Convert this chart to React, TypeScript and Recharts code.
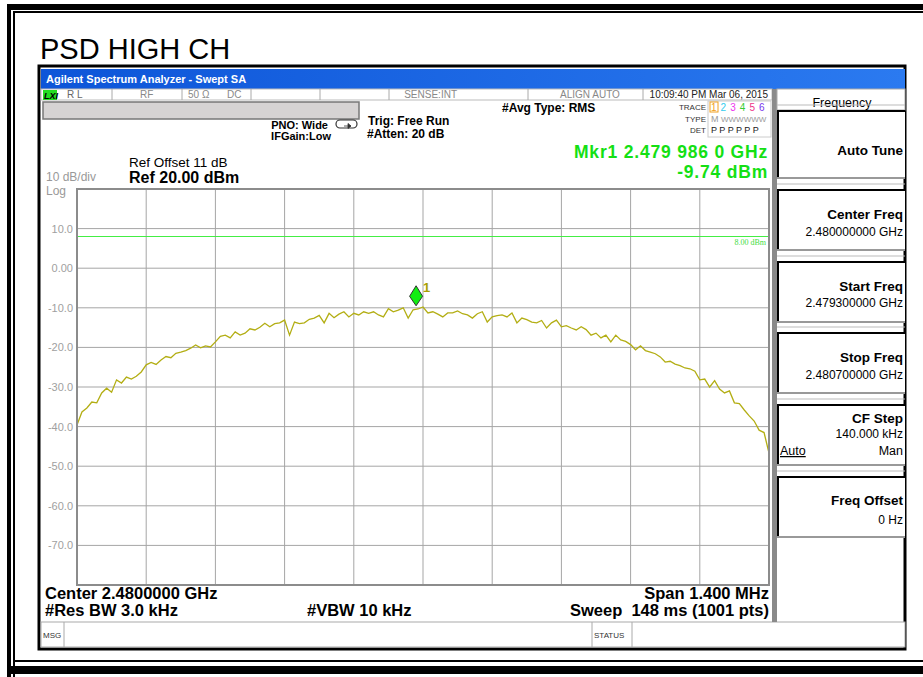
import React from 'react';
import { LineChart, Line, XAxis, YAxis, CartesianGrid, ReferenceLine, ReferenceDot } from 'recharts';

// sweep 2.4793 GHz .. 2.4807 GHz, x is offset from start in kHz
const spanKHz = 1400;
const xTicks = [0, 140, 280, 420, 560, 700, 840, 980, 1120, 1260, 1400];
const yTicks = [-80, -70, -60, -50, -40, -30, -20, -10, 0, 10, 20];
const yTickLabels: Record<string, string> = {
  '10': '10.0', '0': '0.00', '-10': '-10.0', '-20': '-20.0', '-30': '-30.0',
  '-40': '-40.0', '-50': '-50.0', '-60': '-60.0', '-70': '-70.0',
};

// trace 1, dBm
const traceDbm = [
  -39.6, -36.3, -35.3, -33.8, -34.0, -31.5, -30.3, -31.3, -28.2, -29.0,
  -27.5, -28.0, -27.3, -26.2, -24.4, -23.8, -24.3, -23.2, -22.3, -22.6,
  -21.5, -21.2, -20.8, -20.2, -19.4, -20.1, -19.6, -19.9, -18.6, -17.2,
  -16.9, -17.6, -16.1, -16.9, -16.4, -15.3, -15.6, -14.9, -13.9, -14.8,
  -14.0, -13.8, -13.1, -16.9, -13.6, -14.0, -13.8, -12.9, -12.6, -11.9,
  -13.8, -11.4, -12.5, -11.6, -11.0, -12.3, -11.4, -11.8, -11.0, -11.4,
  -11.0, -11.8, -12.3, -10.2, -11.0, -10.6, -10.0, -12.6, -10.5, -10.3,
  -9.8, -11.3, -11.0, -11.6, -12.3, -11.3, -11.3, -10.8, -11.5, -11.8,
  -12.6, -11.5, -11.0, -13.6, -12.3, -12.0, -11.8, -12.3, -11.3, -13.8,
  -12.6, -13.0, -13.6, -13.8, -13.2, -15.1, -13.8, -13.1, -14.8, -14.5,
  -15.1, -15.6, -14.8, -15.5, -16.9, -16.4, -17.6, -16.9, -18.6, -16.9,
  -18.1, -18.5, -19.3, -20.6, -19.6, -20.8, -21.2, -21.6, -22.4, -23.7,
  -23.5, -24.2, -24.6, -25.2, -25.4, -26.0, -28.2, -28.0, -30.0, -28.4,
  -30.5, -31.5, -31.0, -34.0, -34.2, -35.8, -37.3, -38.6, -40.9, -41.5,
  -46.7,
];

const displayLine = 8;
const marker = { offsetKHz: 686, dbm: -9.74 };

const chartData = traceDbm.map((v, i) => ({ f: (i * spanKHz) / (traceDbm.length - 1), dbm: v }));

const FONT = '"Liberation Sans", Arial, sans-serif';

const renderYTick = (props: any) => {
  const label = yTickLabels[String(props.payload.value)];
  if (!label) return <g />;
  return (
    <text x={73} y={props.y + 4} textAnchor="end" fontSize={11} fill="#a0a0a0" fontFamily={FONT}>
      {label}
    </text>
  );
};
const renderNoTick = () => <g />;

const MarkerShape = (props: any) => {
  const { cx, cy } = props;
  const top = cy - 21;
  return (
    <g>
      <path d={`M${cx} ${top} L${cx + 6.5} ${top + 10.5} L${cx} ${cy - 1} L${cx - 6.5} ${top + 10.5} Z`} fill="#11ee11" stroke="#333" strokeWidth={1} />
      <text x={cx + 7} y={top + 6} fontSize={13} fontWeight="bold" fill="#a8a000" fontFamily={FONT}>1</text>
    </g>
  );
};

const T = (p: { x: number; y: number; s?: number; b?: boolean; c?: string; a?: 'start' | 'end' | 'middle'; ls?: number; children: React.ReactNode; u?: boolean }) => (
  <text x={p.x} y={p.y} fontSize={p.s ?? 12} fontWeight={p.b ? 'bold' : 'normal'} fill={p.c ?? '#000'} textAnchor={p.a ?? 'start'} fontFamily={FONT}
    letterSpacing={p.ls} textDecoration={p.u ? 'underline' : undefined} style={{ whiteSpace: 'pre' }}>
    {p.children}
  </text>
);

const softBoxes = [
  { y: 111, h: 67, title: 'Auto Tune', ty: 155 },
  { y: 190, h: 60, title: 'Center Freq', ty: 219, val: '2.480000000 GHz', vy: 236 },
  { y: 262, h: 60, title: 'Start Freq', ty: 291, val: '2.479300000 GHz', vy: 307 },
  { y: 333, h: 60, title: 'Stop Freq', ty: 362, val: '2.480700000 GHz', vy: 379 },
  { y: 405, h: 60, title: 'CF Step', ty: 423, val: '140.000 kHz', vy: 438 },
  { y: 477, h: 60, title: 'Freq Offset', ty: 505, val: '0 Hz', vy: 524 },
];

export default function App() {
  return (
    <div style={{ position: 'absolute', left: 0, top: 0, width: 923, height: 677, background: '#fff', overflow: 'hidden' }}>
      <svg width={923} height={677} style={{ position: 'absolute', left: 0, top: 0 }}>
        {/* page frame */}
        <rect x={7} y={4} width={916} height={6} fill="#000" />
        <rect x={13} y={11} width={910} height={2} fill="#000" />
        <rect x={7} y={4} width={4} height={673} fill="#000" />
        <rect x={13} y={11} width={2} height={666} fill="#000" />
        <rect x={13} y={660} width={910} height={2} fill="#000" />
        <rect x={7} y={666} width={916} height={8} fill="#000" />
        <T x={40} y={59} s={29}>PSD HIGH CH</T>

        {/* analyzer window */}
        <rect x={39} y={66} width={866} height={583} fill="#fff" stroke="#000" strokeWidth={3} />
        <defs>
          <linearGradient id="tb" x1="0" y1="0" x2="1" y2="0">
            <stop offset="0" stopColor="#0d55d8" />
            <stop offset="1" stopColor="#2b7af0" />
          </linearGradient>
        </defs>
        <rect x={41} y={69} width={864} height={20} fill="url(#tb)" />
        <T x={46} y={83} s={11} b c="#fff">Agilent Spectrum Analyzer - Swept SA</T>

        {/* settings bar */}
        <rect x={41} y={89} width={731} height={11} fill="#fff" stroke="#bbb" strokeWidth={1} />
        <rect x={43} y={90} width={14} height={10} fill="#22dd22" />
        <text x={44} y={98.5} fontSize={9} fontWeight="bold" fontStyle="italic" fontFamily={FONT}>LXI</text>
        {[112, 182, 251, 320, 389, 528, 643].map(x => <line key={x} x1={x} y1={89} x2={x} y2={100} stroke="#aaa" />)}
        <T x={67} y={98} s={10} c="#666">R L</T>
        <T x={140} y={98} s={10} c="#888">RF</T>
        <T x={188} y={98} s={10} c="#888">50 Ω</T>
        <T x={227} y={98} s={10} c="#888">DC</T>
        <T x={457} y={98} s={10} c="#888" a="end">SENSE:INT</T>
        <T x={560} y={98} s={10} c="#888">ALIGN AUTO</T>
        <T x={768} y={98} s={10} c="#222" a="end">10:09:40 PM Mar 06, 2015</T>

        <rect x={43} y={102} width={316} height={17} fill="#d6d3d3" stroke="#777" strokeWidth={1.5} />
        <T x={328} y={129} s={11} b a="end">PNO: Wide</T>
        <T x={331} y={140} s={11} b a="end">IFGain:Low</T>
        <rect x={336} y={120} width={21} height={8} rx={4} fill="none" stroke="#333" strokeWidth={1.2} />
        <path d="M344 126 L351 126 L348 123.5 L348 128.5 L351 126" fill="#333" stroke="#333" strokeWidth={0.8} />
        <T x={368} y={125} s={12} b>Trig: Free Run</T>
        <T x={367} y={138} s={12} b>#Atten: 20 dB</T>
        <T x={502} y={112} s={12} b>#Avg Type: RMS</T>

        {/* trace table */}
        <rect x={708} y={101} width={63} height={36} fill="#fff" stroke="#ccc" />
        <T x={706} y={110} s={8} c="#333" a="end">TRACE</T>
        <T x={706} y={122} s={8} c="#333" a="end">TYPE</T>
        <T x={706} y={133} s={8} c="#333" a="end">DET</T>
        <rect x={710} y={102} width={8} height={10} fill="none" stroke="#f0a020" />
        {[['1', '#f0a020'], ['2', '#33ccee'], ['3', '#ee33ee'], ['4', '#33cc33'], ['5', '#ee3388'], ['6', '#7733ee']].map(([d, c], i) => (
          <T key={d} x={711 + i * 9.6} y={111} s={10} c={c}>{d}</T>
        ))}
        <T x={711} y={122} s={9} c="#999">M</T>
        <T x={721} y={122} s={8} c="#999">WWWWWW</T>
        <T x={711} y={133} s={9} c="#222">P P P P P P</T>

        <T x={768} y={158} s={17.5} b c="#14e014" a="end" ls={0.8}>Mkr1 2.479 986 0 GHz</T>
        <T x={768} y={178} s={17.5} b c="#14e014" a="end" ls={0.8}>-9.74 dBm</T>
        <T x={129} y={167} s={13.5}>Ref Offset 11 dB</T>
        <T x={129} y={183} s={16} b>Ref 20.00 dBm</T>
        <T x={46} y={181} s={12} c="#999">10 dB/div</T>
        <T x={46} y={195} s={12} c="#999">Log</T>

        {/* footer */}
        <T x={45} y={599} s={16.5} b>Center 2.4800000 GHz</T>
        <T x={45} y={616} s={16.5} b>#Res BW 3.0 kHz</T>
        <T x={307} y={616} s={16.5} b>#VBW 10 kHz</T>
        <T x={769} y={599} s={16.5} b a="end">Span 1.400 MHz</T>
        <T x={769} y={616} s={16.5} b a="end">Sweep  148 ms (1001 pts)</T>
        <rect x={41} y={622} width={864} height={25} fill="#fff" stroke="#aaa" />
        <line x1={64} y1={622} x2={64} y2={647} stroke="#aaa" />
        <line x1={592} y1={622} x2={592} y2={647} stroke="#aaa" />
        <line x1={632} y1={622} x2={632} y2={647} stroke="#aaa" />
        <T x={43} y={638} s={8} c="#333">MSG</T>
        <T x={594} y={638} s={8} c="#333">STATUS</T>

        {/* softkey panel */}
        <rect x={772} y={89} width={5} height={533} fill="#8a8a8a" />
        <rect x={777} y={89} width={128} height={21} fill="#fff" stroke="#aaa" />
        <T x={842} y={107} s={12.5} a="middle">Frequency</T>
        {softBoxes.map(b => (
          <g key={b.title}>
            <line x1={777} y1={b.y - 6} x2={905} y2={b.y - 6} stroke="#bbb" />
            <rect x={778} y={b.y} width={127} height={b.h} fill="#fff" />
            <line x1={777} y1={b.y} x2={905} y2={b.y} stroke="#000" strokeWidth={2} />
            <line x1={778} y1={b.y} x2={778} y2={b.y + b.h} stroke="#000" strokeWidth={2} />
            <line x1={777} y1={b.y + b.h} x2={905} y2={b.y + b.h} stroke="#999" strokeWidth={2} />
            <T x={903} y={b.ty} s={13.5} b a="end">{b.title}</T>
            {b.val && <T x={903} y={b.vy} s={12} a="end">{b.val}</T>}
          </g>
        ))}
        <T x={780} y={455} s={12.5} u>Auto</T>
        <T x={903} y={455} s={12.5} a="end">Man</T>
      </svg>

      <div style={{ position: 'absolute', left: 0, top: 0 }}>
        <LineChart width={923} height={677} data={chartData} margin={{ top: 189, right: 154, bottom: 91, left: 37 }}>
          <CartesianGrid stroke="#a5a5a5" strokeWidth={1} />
          <XAxis dataKey="f" type="number" domain={[0, spanKHz]} ticks={xTicks} height={1} tick={renderNoTick} axisLine={false} tickLine={false} />
          <YAxis type="number" domain={[-80, 20]} ticks={yTicks} width={40} tick={renderYTick} axisLine={false} tickLine={false} />
          <ReferenceLine y={displayLine} stroke="#44ee44" strokeWidth={1.2}
            label={{ value: '8.00 dBm', position: 'insideTopRight', fill: '#44dd44', fontSize: 8, offset: 3 }} />
          <Line dataKey="dbm" stroke="#b3ae14" strokeWidth={1.3} dot={false} type="linear" isAnimationActive={false} />
          <ReferenceDot x={marker.offsetKHz} y={marker.dbm} shape={<MarkerShape />} />
        </LineChart>
      </div>
      <div style={{ position: 'absolute', left: 76, top: 188, width: 694, height: 398, border: '2px solid #8c8c8c', boxSizing: 'border-box', pointerEvents: 'none' }} />
    </div>
  );
}
